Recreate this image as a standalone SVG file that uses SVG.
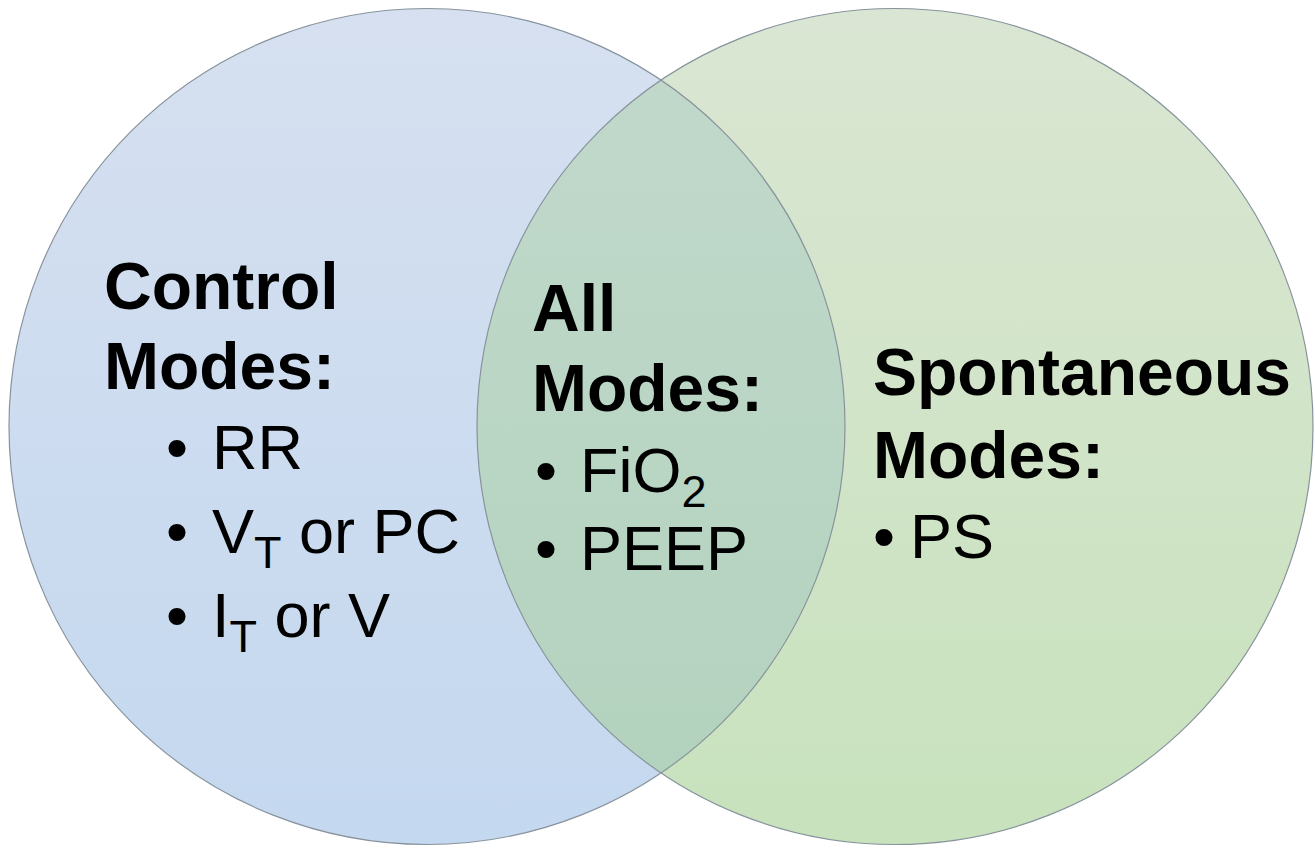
<svg xmlns="http://www.w3.org/2000/svg" width="1315" height="850" viewBox="0 0 1315 850">
<style>
.b{font-family:"Liberation Sans",Arial,sans-serif;font-weight:bold;font-size:66px;fill:#000}
.r{font-family:"Liberation Sans",Arial,sans-serif;font-size:63px;fill:#000}
.s{font-size:45px}
.edge{fill:none;stroke:#87939c;stroke-width:1.2}
</style>
<defs>
<linearGradient id="gb" x1="0" y1="0" x2="0" y2="1">
<stop offset="0" stop-color="#d6e0f0"/>
<stop offset="1" stop-color="#c4d8ef"/>
</linearGradient>
<linearGradient id="gg" x1="0" y1="0" x2="0" y2="1">
<stop offset="0" stop-color="#dae6d3"/>
<stop offset="1" stop-color="#c8e2bd"/>
</linearGradient>
<linearGradient id="go" x1="0" y1="0" x2="0" y2="1">
<stop offset="0" stop-color="#c2d9cc"/>
<stop offset="1" stop-color="#b2d2bd"/>
</linearGradient>
<clipPath id="clipL"><circle cx="427" cy="426.5" r="418"/></clipPath>
</defs>
<rect width="1315" height="850" fill="#ffffff"/>
<g id="control-circle"><circle cx="427" cy="426.5" r="418" fill="url(#gb)"/></g>
<g id="spontaneous-circle"><circle cx="895" cy="426.5" r="418" fill="url(#gg)"/></g>
<g id="overlap"><circle cx="895" cy="426.5" r="418" fill="url(#go)" clip-path="url(#clipL)"/></g>
<g id="outlines">
<circle class="edge" cx="427" cy="426.5" r="418"/>
<circle class="edge" cx="895" cy="426.5" r="418"/>
</g>
<g id="connectors"></g>
<g id="control-text">
<text class="b" x="104" y="309">Control</text>
<text class="b" x="104" y="389">Modes:</text>
<text class="r" x="166" y="469">•<tspan x="212">RR</tspan></text>
<text class="r" x="166" y="553">•<tspan x="212">V</tspan><tspan class="s" dy="15">T</tspan><tspan dy="-15"> or PC</tspan></text>
<text class="r" x="166" y="637">•<tspan x="212">I</tspan><tspan class="s" dy="15">T</tspan><tspan dy="-15"> or V</tspan></text>
</g>
<g id="all-text">
<text class="b" x="532" y="331">All</text>
<text class="b" x="532" y="411">Modes:</text>
<text class="r" x="535" y="492">•<tspan x="580">FiO</tspan><tspan class="s" dy="15">2</tspan></text>
<text class="r" x="535" y="570">•<tspan x="580">PEEP</tspan></text>
</g>
<g id="spontaneous-text">
<text class="b" x="873" y="395">Spontaneous</text>
<text class="b" x="873" y="478">Modes:</text>
<text class="r" x="873" y="558">•<tspan x="910">PS</tspan></text>
</g>
</svg>
